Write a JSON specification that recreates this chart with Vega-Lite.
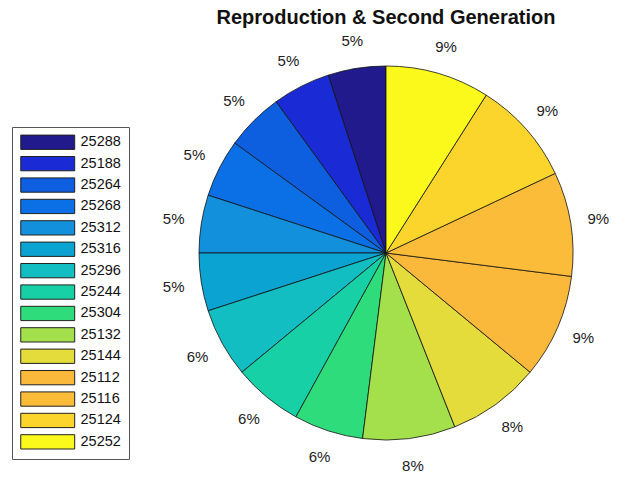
{
  "$schema": "https://vega.github.io/schema/vega-lite/v6.json",
  "width": 496,
  "height": 446,
  "autosize": {"type": "none"},
  "padding": {"left": 138, "top": 30, "right": 0, "bottom": 0},
  "background": "white",
  "title": {"text": "Reproduction & Second Generation", "font": "Liberation Sans", "fontSize": 20, "fontWeight": "bold", "color": "#111", "anchor": "middle", "offset": 2},
  "config": {"view": {"stroke": null}},
  "data": {"values": [
    {"k": 1, "id": "25288", "value": 5, "label": "5%"},
    {"k": 2, "id": "25188", "value": 5, "label": "5%"},
    {"k": 3, "id": "25264", "value": 5, "label": "5%"},
    {"k": 4, "id": "25268", "value": 5, "label": "5%"},
    {"k": 5, "id": "25312", "value": 5, "label": "5%"},
    {"k": 6, "id": "25316", "value": 5, "label": "5%"},
    {"k": 7, "id": "25296", "value": 6, "label": "6%"},
    {"k": 8, "id": "25244", "value": 6, "label": "6%"},
    {"k": 9, "id": "25304", "value": 6, "label": "6%"},
    {"k": 10, "id": "25132", "value": 8, "label": "8%"},
    {"k": 11, "id": "25144", "value": 8, "label": "8%"},
    {"k": 12, "id": "25112", "value": 9, "label": "9%"},
    {"k": 13, "id": "25116", "value": 9, "label": "9%"},
    {"k": 14, "id": "25124", "value": 9, "label": "9%"},
    {"k": 15, "id": "25252", "value": 9, "label": "9%"}
  ]},
  "encoding": {
    "theta": {"field": "value", "type": "quantitative", "stack": true},
    "order": {"field": "k", "sort": "descending"}
  },
  "layer": [
    {
      "mark": {"type": "arc", "outerRadius": 187, "stroke": "#111", "strokeWidth": 0.8},
      "encoding": {
        "color": {
          "field": "id", "type": "nominal",
          "scale": {
            "domain": ["25288","25188","25264","25268","25312","25316","25296","25244","25304","25132","25144","25112","25116","25124","25252"],
            "range": ["#211a8c","#1a2bd6","#0e5ee0","#0b70e6","#1290dc","#0aa3d2","#12bec2","#17d0a6","#2edc7c","#a3e04c","#e3dc3a","#fbb93c","#fbbc3a","#fcd52c","#fbf81c"]
          },
          "legend": {
            "title": null,
            "orient": "none",
            "legendX": -126,
            "legendY": 97,
            "symbolType": "M-1,-1.1H7.3V1.1H-1Z",
            "symbolSize": 169,
            "symbolStrokeColor": "#222",
            "symbolStrokeWidth": 1,
            "symbolOpacity": 1,
            "labelFont": "Liberation Sans",
            "labelFontSize": 14.5,
            "labelColor": "#111",
            "labelOffset": 46,
            "rowPadding": 2.4,
            "padding": 8,
            "strokeColor": "#555",
            "fillColor": "white"
          }
        }
      }
    },
    {
      "mark": {"type": "text", "radius": 215, "font": "Liberation Sans", "fontSize": 15, "color": "#222"},
      "encoding": {"text": {"field": "label"}}
    }
  ]
}
